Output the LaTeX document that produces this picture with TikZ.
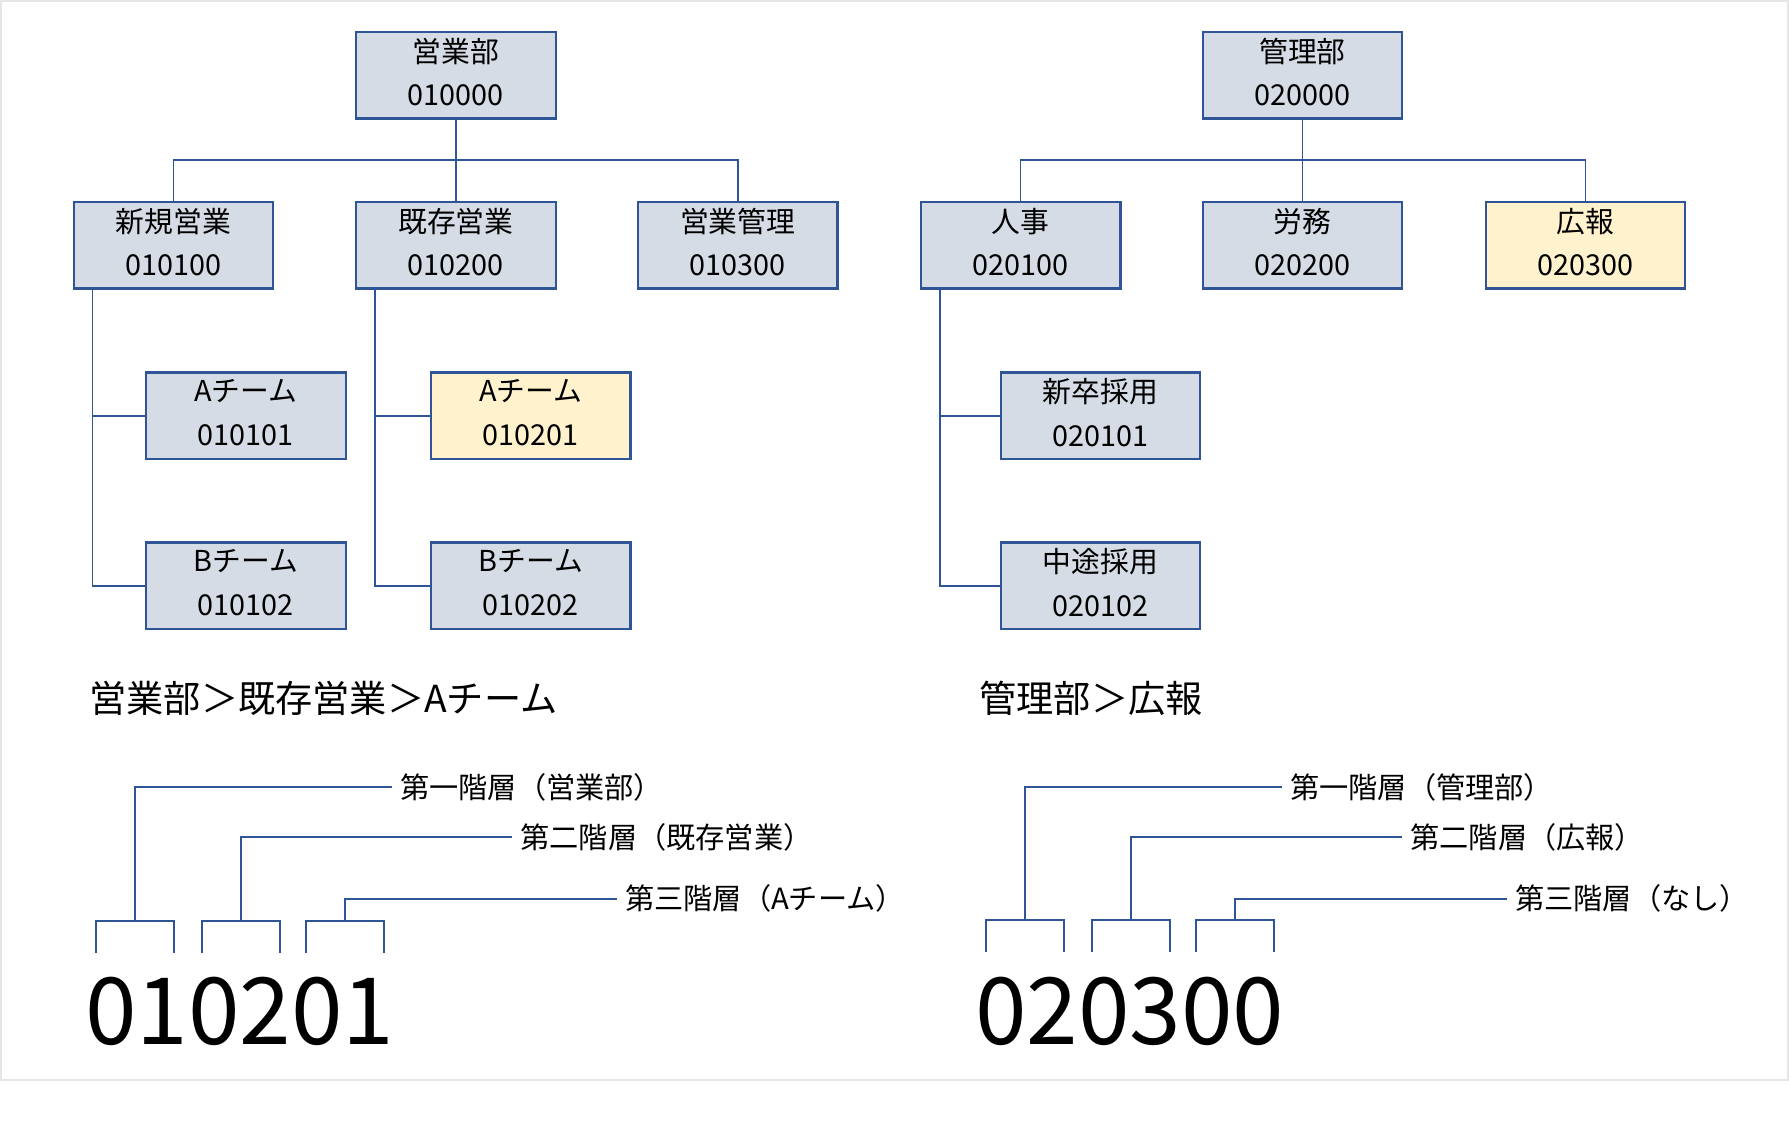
\documentclass[tikz,border=0pt]{standalone}
\usepackage{fontspec}
\setmainfont{Noto Sans CJK JP}

\definecolor{OrgBlue}{HTML}{2F5597}
\definecolor{OrgFill}{HTML}{D6DCE5}
\definecolor{OrgYellow}{HTML}{FFF2CC}
\definecolor{FrameGray}{HTML}{E6E6E6}
\tikzstyle{org-box}=[draw=OrgBlue, line width=1.1pt, fill=OrgFill, minimum width=99.8pt, minimum height=43.3pt, inner sep=0pt, align=center, text depth=3.4pt, font={\fontsize{14.4}{21.7}\selectfont}]
\tikzstyle{org-box-hl}=[org-box, fill=OrgYellow]
\tikzstyle{org-line}=[draw=OrgBlue, line width=0.85pt]
\tikzstyle{leader-line}=[draw=OrgBlue, line width=1pt]
\tikzstyle{level-label}=[anchor=west, inner sep=4pt, font={\fontsize{14.6}{16}\selectfont}]
\tikzstyle{path-label}=[anchor=west, inner sep=0pt, font={\fontsize{18.6}{22}\selectfont}]
\tikzstyle{code-label}=[anchor=west, inner sep=0pt, font={\fontsize{46.4}{50}\selectfont}]

\begin{document}
\begin{tikzpicture}[x=0.5pt, y=-0.5pt]
      \useasboundingbox (0,0) rectangle (1789,1127);
      \draw[FrameGray, line width=1pt] (1,1) rectangle (1788,1080);

      % 営業部
      \node (box-eigyo) at (455.8,75.3) [org-box] {営業部\\010000};
      \node (box-shinki) at (173.4,245.3) [org-box] {新規営業\\010100};
      \node (box-kizon) at (455.8,245.3) [org-box] {既存営業\\010200};
      \node (box-ekanri) at (737.7,245.3) [org-box] {営業管理\\010300};
      \node (box-shinki-a) at (245.9,415.9) [org-box] {Aチーム\\010101};
      \node (box-shinki-b) at (245.9,585.9) [org-box] {Bチーム\\010102};
      \node (box-kizon-a) at (530.6,415.9) [org-box-hl] {Aチーム\\010201};
      \node (box-kizon-b) at (530.6,585.9) [org-box] {Bチーム\\010202};

      \coordinate (bus-eigyo) at (455.8,159.7);
      \draw[org-line] (box-eigyo.south) -- (box-kizon.north);
      \draw[org-line] (box-shinki.north) -- (box-shinki.north |- bus-eigyo) -- (box-ekanri.north |- bus-eigyo) -- (box-ekanri.north);
      \draw[org-line] ([xshift=10pt]box-shinki.south west) |- (box-shinki-a.west);
      \draw[org-line] ([xshift=10pt]box-shinki.south west) |- (box-shinki-b.west);
      \draw[org-line] ([xshift=10pt]box-kizon.south west) |- (box-kizon-a.west);
      \draw[org-line] ([xshift=10pt]box-kizon.south west) |- (box-kizon-b.west);

      % 管理部
      \node (box-kanri) at (1302.4,75.3) [org-box] {管理部\\020000};
      \node (box-jinji) at (1020.6,245.3) [org-box] {人事\\020100};
      \node (box-romu) at (1302.4,245.3) [org-box] {労務\\020200};
      \node (box-koho) at (1585.4,245.3) [org-box-hl] {広報\\020300};
      \node (box-shinsotsu) at (1100.5,415.9) [org-box] {新卒採用\\020101};
      \node (box-chuto) at (1100.5,585.9) [org-box] {中途採用\\020102};

      \coordinate (bus-kanri) at (1302.4,159.7);
      \draw[org-line] (box-kanri.south) -- (box-romu.north);
      \draw[org-line] (box-jinji.north) -- (box-jinji.north |- bus-kanri) -- (box-koho.north |- bus-kanri) -- (box-koho.north);
      \draw[org-line] ([xshift=10pt]box-jinji.south west) |- (box-shinsotsu.west);
      \draw[org-line] ([xshift=10pt]box-jinji.south west) |- (box-chuto.west);

      % code 010201
      \node (path-eigyo) at (89,698.3) [path-label] {営業部＞既存営業＞Aチーム};
      \node (lvl-l1) at (391.8,787) [level-label] {第一階層（営業部）};
      \node (lvl-l2) at (512,837) [level-label] {第二階層（既存営業）};
      \node (lvl-l3) at (616.8,898.7) [level-label] {第三階層（Aチーム）};
      \coordinate (brk-l1) at (134.9,921);
      \coordinate (brk-l2) at (240.9,921);
      \coordinate (brk-l3) at (344.8,921);
      \draw[leader-line] (95.7,953) -- (95.7,921) -- (174,921) -- (174,953);
      \draw[leader-line] (201.8,953) -- (201.8,921) -- (280,921) -- (280,953);
      \draw[leader-line] (305.5,953) -- (305.5,921) -- (384,921) -- (384,953);
      \draw[leader-line] (brk-l1) |- (lvl-l1.west);
      \draw[leader-line] (brk-l2) |- (lvl-l2.west);
      \draw[leader-line] (brk-l3) |- (lvl-l3.west);
      \node (code-eigyo) at (85,1011) [code-label] {010201};

      % code 020300
      \node (path-kanri) at (979,698.3) [path-label] {管理部＞広報};
      \node (lvl-r1) at (1281.8,787) [level-label] {第一階層（管理部）};
      \node (lvl-r2) at (1402,837) [level-label] {第二階層（広報）};
      \node (lvl-r3) at (1506.8,898.7) [level-label] {第三階層（なし）};
      \coordinate (brk-r1) at (1024.9,920);
      \coordinate (brk-r2) at (1130.9,920);
      \coordinate (brk-r3) at (1234.8,920);
      \draw[leader-line] (985.7,952) -- (985.7,920) -- (1064,920) -- (1064,952);
      \draw[leader-line] (1091.8,952) -- (1091.8,920) -- (1170,920) -- (1170,952);
      \draw[leader-line] (1195.5,952) -- (1195.5,920) -- (1274,920) -- (1274,952);
      \draw[leader-line] (brk-r1) |- (lvl-r1.west);
      \draw[leader-line] (brk-r2) |- (lvl-r2.west);
      \draw[leader-line] (brk-r3) |- (lvl-r3.west);
      \node (code-kanri) at (975,1011) [code-label] {020300};
\end{tikzpicture}
\end{document}
